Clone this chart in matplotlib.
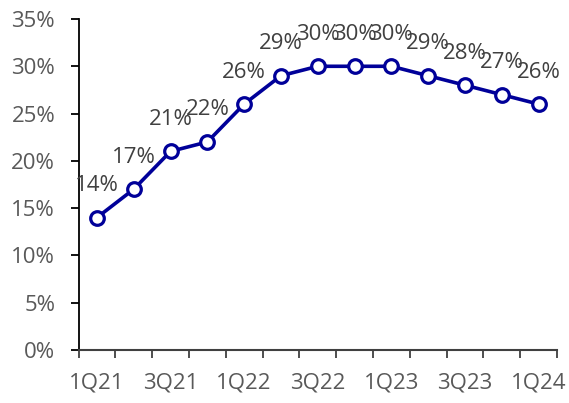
import matplotlib
matplotlib.use("Agg")
import matplotlib.pyplot as plt
from matplotlib.ticker import FixedLocator, PercentFormatter

quarters = ["1Q21", "2Q21", "3Q21", "4Q21", "1Q22", "2Q22", "3Q22", "4Q22",
            "1Q23", "2Q23", "3Q23", "4Q23", "1Q24"]
values = [14, 17, 21, 22, 26, 29, 30, 30, 30, 29, 28, 27, 26]
yticks = [0, 5, 10, 15, 20, 25, 30, 35]

plt.rcParams['font.family'] = ['Open Sans', 'DejaVu Sans']

fig = plt.figure(figsize=(5.69, 4.03), dpi=100)
ax = fig.add_axes([78.5 / 569, 53 / 403, (557 - 78.5) / 569, (350 - 19) / 403])

x = list(range(len(quarters)))
line_color = "#000099"
ax.plot(x, values, color=line_color, lw=2.6, marker="o", ms=9.8,
        mfc="white", mec=line_color, mew=2.3, zorder=3, clip_on=False)

for xi, v in zip(x, values):
    ax.annotate(f"{v}%", (xi, v), xytext=(0, 23), textcoords="offset points",
                ha="center", va="center", fontsize=16, color="#404040")

ax.set_xlim(-0.5, len(quarters) - 0.5)
ax.set_ylim(0, 35)
ax.set_yticks(yticks)
ax.yaxis.set_major_formatter(PercentFormatter(decimals=0))

ax.set_xticks(x[::2])
ax.set_xticklabels(quarters[::2])
ax.xaxis.set_minor_locator(FixedLocator([i - 0.5 for i in range(len(quarters) + 1)]))

ax.tick_params(axis="x", which="major", length=0, pad=16, labelsize=16, labelcolor="#595959")
ax.tick_params(axis="x", which="minor", length=5.5, width=1.3, color="#404040")
ax.tick_params(axis="y", length=5.8, width=1.3, color="black", pad=11,
               labelsize=16, labelcolor="#595959")

for s in ["top", "right"]:
    ax.spines[s].set_visible(False)
ax.spines["left"].set_color("black")
ax.spines["left"].set_linewidth(1.3)
ax.spines["bottom"].set_color("#404040")
ax.spines["bottom"].set_linewidth(1.5)

fig.savefig("out.png", dpi=100)
